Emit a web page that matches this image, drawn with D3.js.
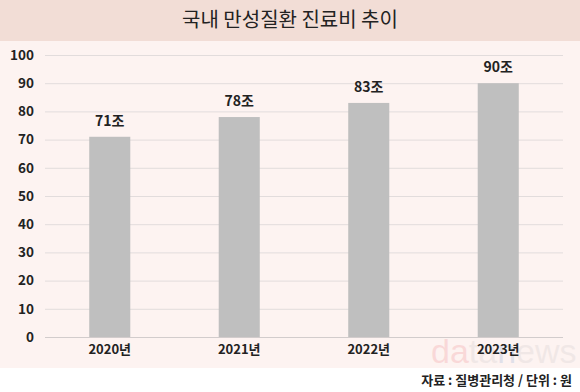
<!DOCTYPE html>
<html><head><meta charset="utf-8">
<script src="https://cdn.jsdelivr.net/npm/d3@7"></script>
<style>body{margin:0;background:#fff}svg{display:block}</style>
</head><body>
<script>
const title = "국내 만성질환 진료비 추이";
const categories = ["2020년", "2021년", "2022년", "2023년"];
const values = [71, 78, 83, 90];
const valueLabels = ["71조", "78조", "83조", "90조"];
const yTicks = [0, 10, 20, 30, 40, 50, 60, 70, 80, 90, 100];
const source = "자료 : 질병관리청 / 단위 : 원";

const W = 580, H = 392;
const font = "'Noto Sans CJK KR', 'Noto Sans', sans-serif";
const svg = d3.select("body").append("svg").attr("width", W).attr("height", H);

svg.append("rect").attr("x", 0).attr("y", 0).attr("width", W).attr("height", H).attr("fill", "#fff");
svg.append("rect").attr("x", 0).attr("y", 0).attr("width", W).attr("height", 41).attr("fill", "#f2ddd6");
svg.append("rect").attr("x", 0).attr("y", 41).attr("width", W).attr("height", 327).attr("fill", "#fdf3f1");

svg.append("text").attr("x", W / 2).attr("y", 27).attr("text-anchor", "middle")
  .attr("font-family", font).attr("font-size", 20).attr("fill", "#222").text(title);

const x = d3.scaleBand().domain(categories).range([45, 563]).paddingInner(0.683).paddingOuter(0.3415);
const y = d3.scaleLinear().domain([0, 100]).range([337, 55]);

// watermark
const wm = svg.append("text").attr("x", 431).attr("y", 363)
  .attr("font-family", "'Liberation Sans', Arial, sans-serif").attr("font-size", 34).attr("opacity", 0.12);
wm.append("tspan").attr("fill", "#e0202a").text("da");
wm.append("tspan").attr("fill", "#999").text("ta");
wm.append("tspan").attr("fill", "#1a5fb4").text("n");
wm.append("tspan").attr("fill", "#999").text("ews");

// gridlines
svg.append("g").selectAll("line").data(yTicks).join("line")
  .attr("x1", 45).attr("x2", 563)
  .attr("y1", d => y(d) + 0.5).attr("y2", d => y(d) + 0.5)
  .attr("stroke", d => d === 0 ? "#d2cccc" : "#e2dcdc").attr("stroke-width", 1);

// y axis labels
const yAxis = d3.axisLeft(y).tickValues(yTicks).tickSize(0).tickPadding(0);
const gy = svg.append("g").attr("transform", "translate(34,0)").call(yAxis);
gy.select(".domain").remove();
gy.selectAll("text").attr("font-family", font).attr("font-size", 13.5).attr("font-weight", 600).attr("fill", "#222");

// bars
svg.append("g").selectAll("rect").data(values).join("rect")
  .attr("x", (d, i) => x(categories[i])).attr("width", x.bandwidth())
  .attr("y", d => y(d)).attr("height", d => y(0) - y(d)).attr("fill", "#bfbfbf");

// value labels
svg.append("g").selectAll("text").data(values).join("text")
  .attr("x", (d, i) => x(categories[i]) + x.bandwidth() / 2).attr("y", d => y(d) - 11)
  .attr("text-anchor", "middle").attr("font-family", font).attr("font-size", 14).attr("font-weight", 600)
  .attr("fill", "#222").text((d, i) => valueLabels[i]);

// x axis labels
const xAxis = d3.axisBottom(x).tickSize(0).tickPadding(0);
const gx = svg.append("g").attr("transform", "translate(0,345)").call(xAxis);
gx.select(".domain").remove();
gx.selectAll("text").attr("font-family", font).attr("font-size", 13).attr("font-weight", 600).attr("fill", "#222");

svg.append("text").attr("x", 572).attr("y", 385).attr("text-anchor", "end")
  .attr("font-family", font).attr("font-size", 13).attr("font-weight", 700).attr("fill", "#222").text(source);
</script>
</body></html>
